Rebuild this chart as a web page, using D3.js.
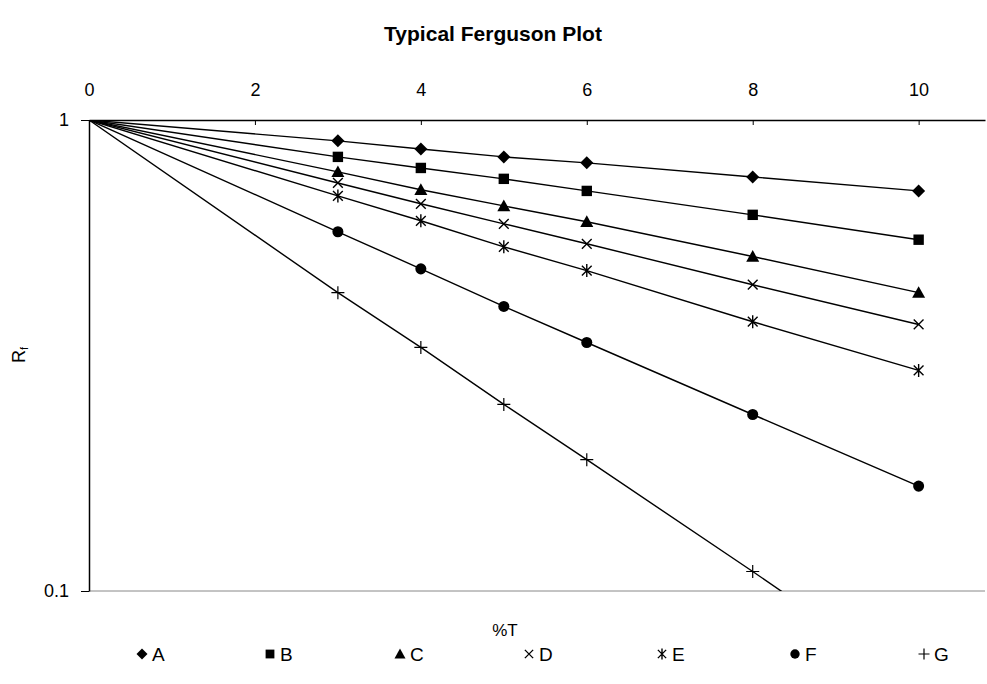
<!DOCTYPE html>
<html>
<head>
<meta charset="utf-8">
<script src="https://cdn.jsdelivr.net/npm/d3@7"></script>
<style>
  body { margin: 0; background: #fff; }
  text { font-family: Arial, "Liberation Sans", sans-serif; fill: #000; }
</style>
</head>
<body>
<svg width="987" height="684"></svg>
<script>
// data
var xValues = [0, 3, 4, 5, 6, 8, 10];
var seriesNames = ['A', 'B', 'C', 'D', 'E', 'F', 'G'];
var seriesA = [1, 0.903, 0.868, 0.835, 0.811, 0.757, 0.707];
var seriesB = [1, 0.835, 0.791, 0.750, 0.707, 0.629, 0.557];
var seriesC = [1, 0.776, 0.711, 0.657, 0.608, 0.513, 0.430];
var seriesD = [1, 0.735, 0.664, 0.602, 0.546, 0.447, 0.368];
var seriesE = [1, 0.690, 0.611, 0.538, 0.479, 0.373, 0.294];
var seriesF = [1, 0.579, 0.483, 0.402, 0.337, 0.237, 0.167];
var seriesG = [1, 0.430, 0.329, 0.249, 0.190, 0.110, 0.063];
var xTicks = [0, 2, 4, 6, 8, 10];
var yTicks = [0.1, 1];

var allSeries = [seriesA, seriesB, seriesC, seriesD, seriesE, seriesF, seriesG];
var symbols = ['diamond', 'square', 'triangle', 'cross', 'star', 'circle', 'plus'];

var svg = d3.select('svg');
var mLeft = 89, mRight = 985, mTop = 120, mBottom = 591;

var x = d3.scaleLinear().domain([0, 10.8]).range([mLeft, mRight]);
var y = d3.scaleLog().domain([0.1, 1]).range([mBottom, mTop]);

// title
svg.append('text')
    .attr('x', 493).attr('y', 41)
    .attr('text-anchor', 'middle')
    .style('font-size', '21px').style('font-weight', 'bold')
    .text('Typical Ferguson Plot');

svg.append('defs').append('clipPath').attr('id', 'plot')
  .append('rect')
    .attr('x', mLeft).attr('y', mTop)
    .attr('width', mRight - mLeft).attr('height', mBottom - mTop);

// bottom border line (grey)
svg.append('line')
    .attr('x1', mLeft).attr('x2', mRight)
    .attr('y1', mBottom).attr('y2', mBottom)
    .attr('stroke', '#888').attr('stroke-width', 1);

// top x axis
var xAxis = svg.append('g')
    .attr('transform', 'translate(0,' + mTop + ')')
    .call(d3.axisTop(x).tickValues(xTicks).tickSize(-5).tickPadding(24).tickSizeOuter(0));
xAxis.select('.domain').attr('stroke', '#000').attr('stroke-width', 1.5);
xAxis.selectAll('.tick line').attr('stroke', '#000');
xAxis.selectAll('.tick text').style('font-size', '18px');

// left y axis
var yAxis = svg.append('g')
    .attr('transform', 'translate(' + mLeft + ',0)')
    .call(d3.axisLeft(y).tickValues(yTicks).tickFormat(d3.format('')).tickSize(8).tickPadding(12).tickSizeOuter(0));
yAxis.select('.domain').attr('stroke', '#000').attr('stroke-width', 1.5);
yAxis.selectAll('.tick line').attr('stroke', '#000');
yAxis.selectAll('.tick text').style('font-size', '18px');

// axis titles
svg.append('text')
    .attr('x', 505).attr('y', 636)
    .attr('text-anchor', 'middle')
    .style('font-size', '17px')
    .text('%T');

var yl = svg.append('text')
    .attr('transform', 'translate(25,355) rotate(-90)')
    .attr('text-anchor', 'middle')
    .style('font-size', '18px');
yl.append('tspan').text('R');
yl.append('tspan').attr('dy', 3).style('font-size', '11px').text('f');

function marker(sel, type, size) {
  var s = size;
  if (type === 'diamond') {
    sel.append('path').attr('d', 'M0,' + (-s) + 'L' + s + ',0L0,' + s + 'L' + (-s) + ',0Z').attr('fill', '#000');
  } else if (type === 'square') {
    sel.append('rect').attr('x', -s * 0.8).attr('y', -s * 0.8).attr('width', s * 1.6).attr('height', s * 1.6).attr('fill', '#000');
  } else if (type === 'triangle') {
    sel.append('path').attr('d', 'M0,' + (-s) + 'L' + s + ',' + (s * 0.8) + 'L' + (-s) + ',' + (s * 0.8) + 'Z').attr('fill', '#000');
  } else if (type === 'circle') {
    sel.append('circle').attr('r', s * 0.85).attr('fill', '#000');
  } else if (type === 'cross') {
    var c = s * 0.75;
    sel.append('path').attr('d', 'M' + (-c) + ',' + (-c) + 'L' + c + ',' + c + 'M' + (-c) + ',' + c + 'L' + c + ',' + (-c))
      .attr('stroke', '#000').attr('stroke-width', 1.4);
  } else if (type === 'star') {
    var c2 = s * 0.75;
    sel.append('path').attr('d', 'M' + (-c2) + ',' + (-c2) + 'L' + c2 + ',' + c2 + 'M' + (-c2) + ',' + c2 + 'L' + c2 + ',' + (-c2) + 'M0,' + (-s) + 'L0,' + s)
      .attr('stroke', '#000').attr('stroke-width', 1.4);
  } else if (type === 'plus') {
    sel.append('path').attr('d', 'M' + (-s) + ',0L' + s + ',0M0,' + (-s) + 'L0,' + s)
      .attr('stroke', '#000').attr('stroke-width', 1.2);
  }
}

var line = d3.line()
    .x(function(d, i) { return x(xValues[i]); })
    .y(function(d) { return y(d); });

var plot = svg.append('g').attr('clip-path', 'url(#plot)');

allSeries.forEach(function(vals, k) {
  plot.append('path')
      .datum(vals)
      .attr('d', line)
      .attr('fill', 'none')
      .attr('stroke', '#000')
      .attr('stroke-width', 1.4);
});

allSeries.forEach(function(vals, k) {
  vals.forEach(function(v, i) {
    if (i === 0) return;
    if (v < 0.1) return;
    var g = svg.append('g').attr('transform', 'translate(' + x(xValues[i]) + ',' + y(v) + ')');
    marker(g, symbols[k], 6.5);
  });
});

// legend
var legendX = [142, 270, 400, 529, 662, 795, 924];
seriesNames.forEach(function(name, k) {
  var g = svg.append('g').attr('transform', 'translate(' + legendX[k] + ',654)');
  marker(g, symbols[k], 5.5);
  g.append('text').attr('x', 10).attr('y', 7)
      .style('font-size', '19px')
      .text(name);
});
</script>
</body>
</html>
